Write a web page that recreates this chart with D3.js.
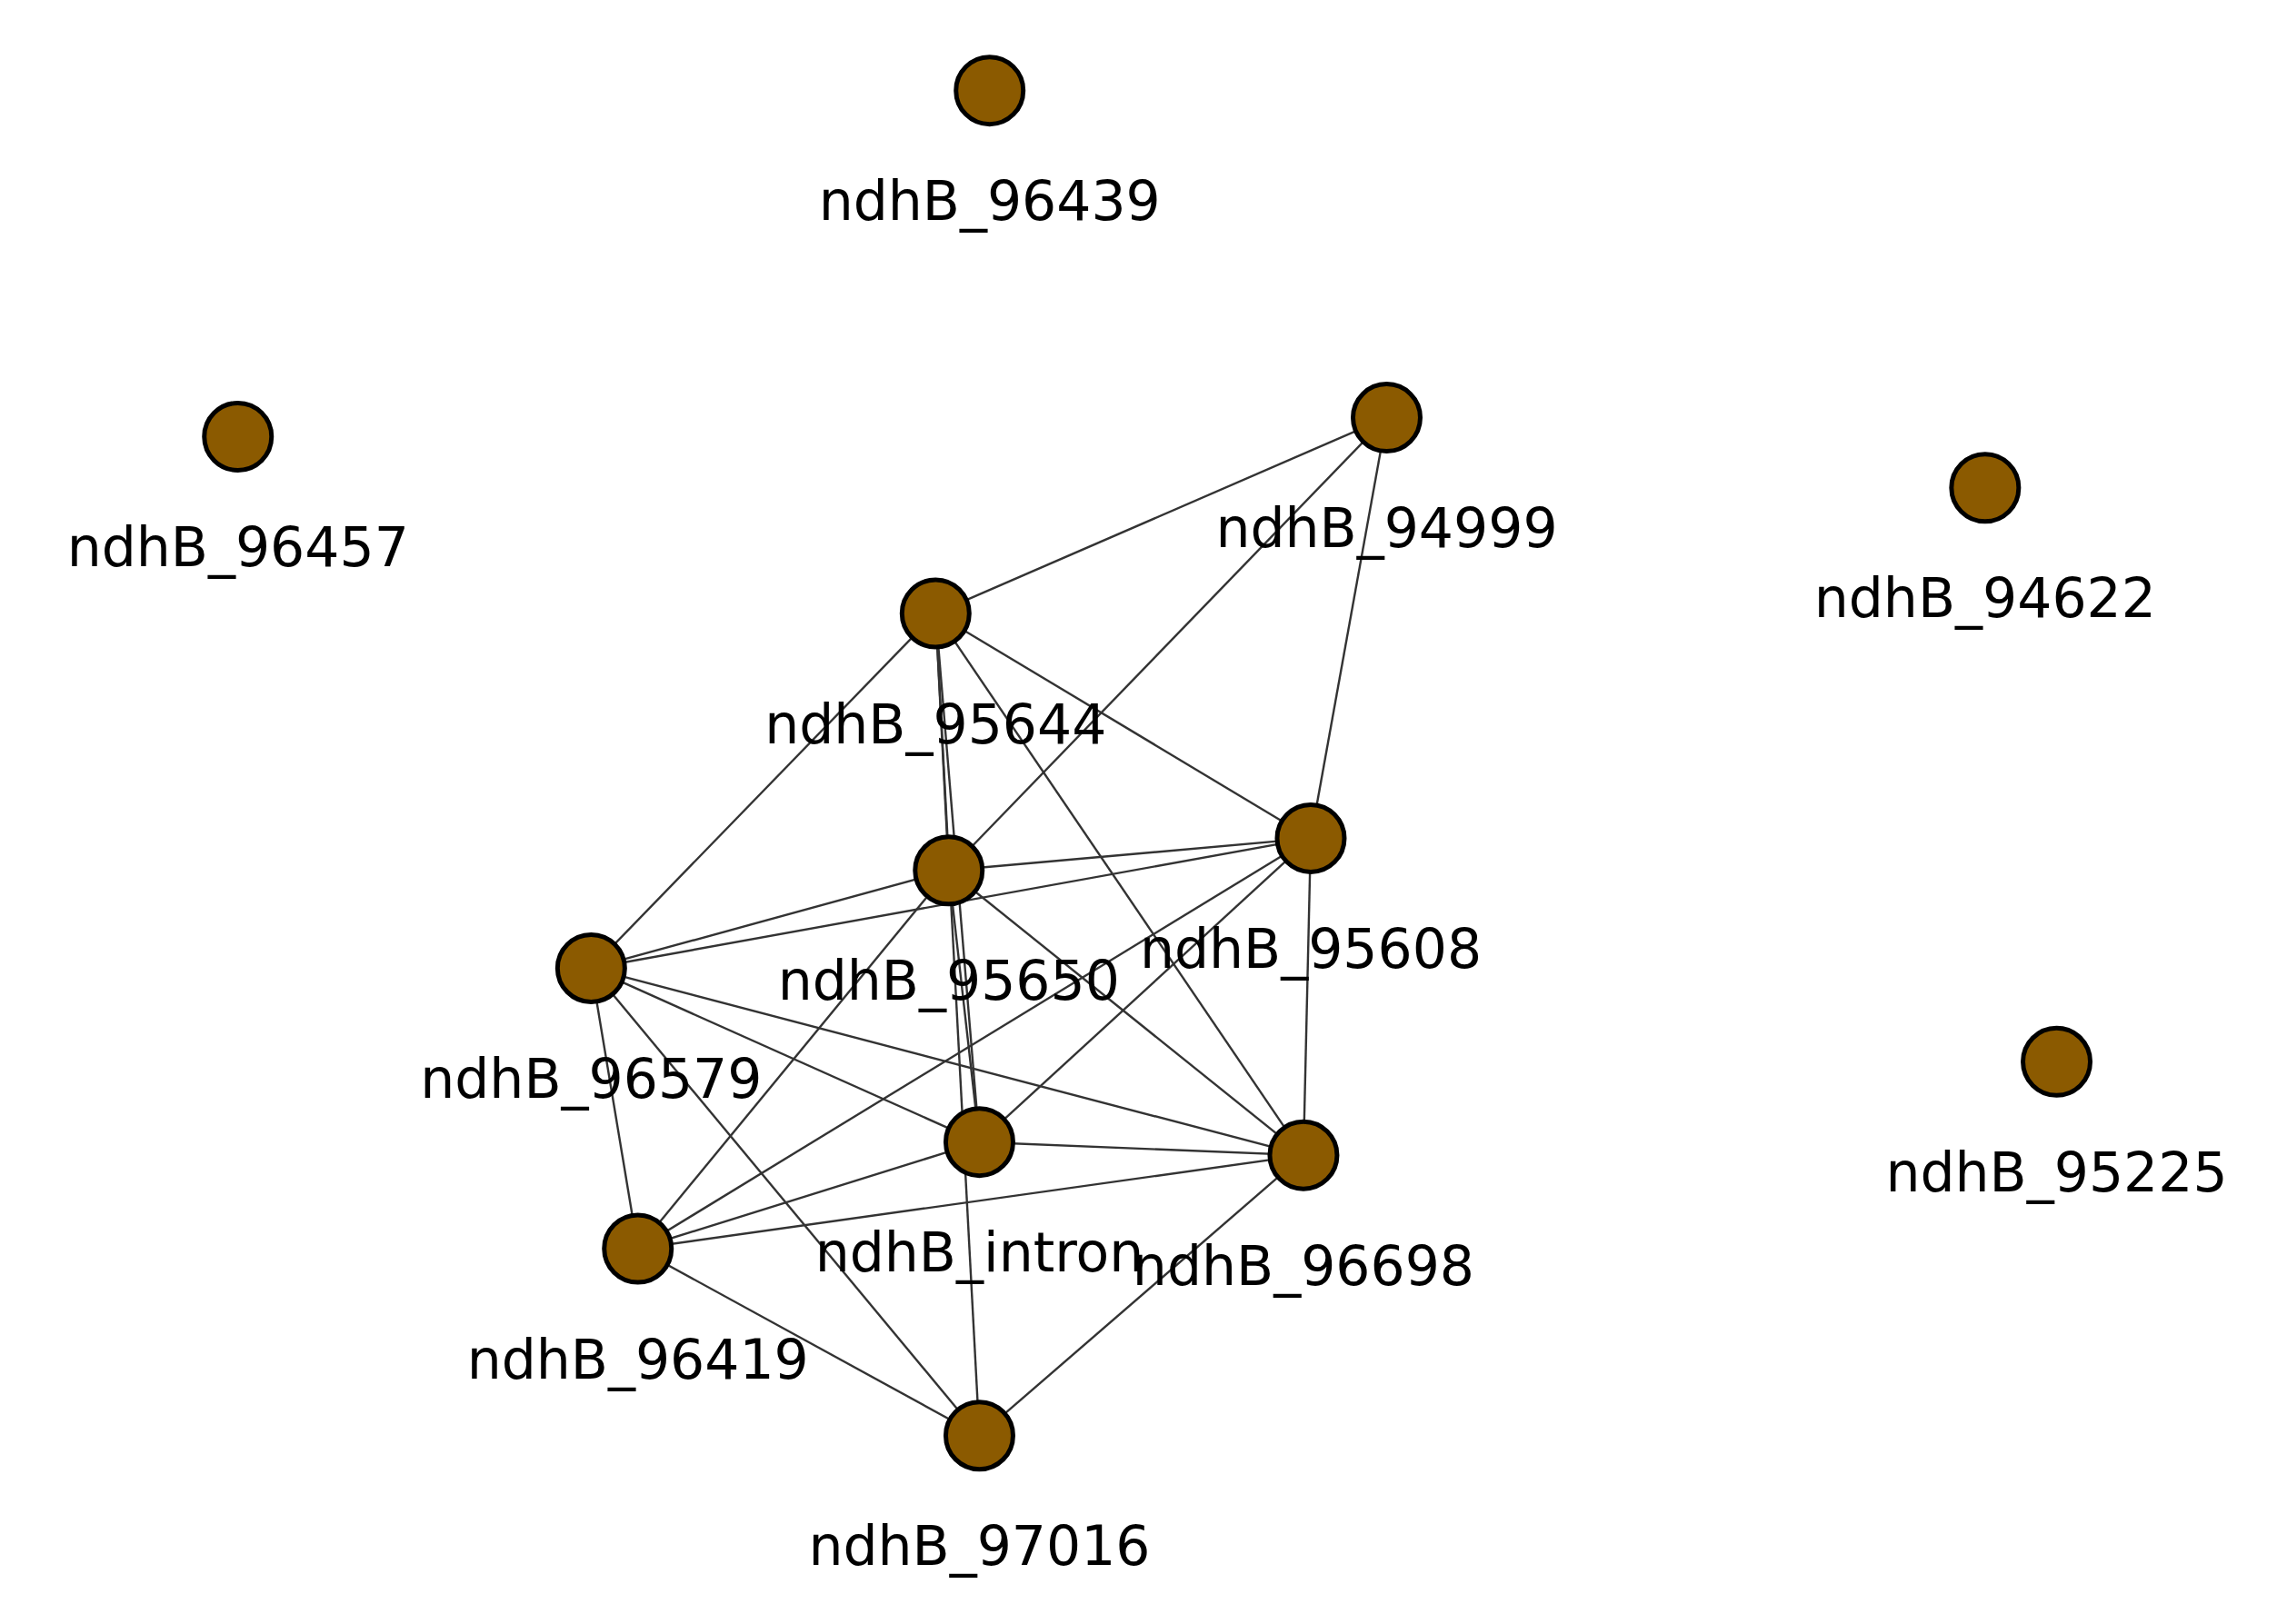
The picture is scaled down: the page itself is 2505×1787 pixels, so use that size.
<!DOCTYPE html>
<html><head><meta charset="utf-8">
<script src="https://cdn.jsdelivr.net/npm/d3@7"></script>
<style>body{margin:0;background:#fff}</style>
</head><body>
<svg id="net" width="2505" height="1787"></svg>
<script>
const nodeNames = ['ndhB_96439','ndhB_96457','ndhB_94999','ndhB_94622','ndhB_95644','ndhB_95608','ndhB_95650','ndhB_96579','ndhB_intron','ndhB_96698','ndhB_96419','ndhB_97016','ndhB_95225'];
const nodeX = [678,163,950,1360,641,898,650,405,671,893,437,671,1409];
const nodeY = [62,299,286,334,420,574,596,663,782,791,855,983,727];
const edgeSource = ['ndhB_94999','ndhB_94999','ndhB_94999','ndhB_95644','ndhB_95644','ndhB_95644','ndhB_95644','ndhB_95644','ndhB_95644','ndhB_95650','ndhB_95650','ndhB_95650','ndhB_95650','ndhB_95650','ndhB_95608','ndhB_95608','ndhB_95608','ndhB_95608','ndhB_96579','ndhB_96579','ndhB_96579','ndhB_96579','ndhB_intron','ndhB_intron','ndhB_96698','ndhB_96698','ndhB_96419'];
const edgeTarget = ['ndhB_95644','ndhB_95650','ndhB_95608','ndhB_96579','ndhB_95608','ndhB_95650','ndhB_intron','ndhB_96698','ndhB_97016','ndhB_95608','ndhB_96579','ndhB_intron','ndhB_96698','ndhB_96419','ndhB_96579','ndhB_96419','ndhB_intron','ndhB_96698','ndhB_intron','ndhB_96698','ndhB_96419','ndhB_97016','ndhB_96698','ndhB_96419','ndhB_96419','ndhB_97016','ndhB_97016'];

const x = d3.scaleLinear().domain([0, 1560]).range([0, 2505]);
const y = d3.scaleLinear().domain([0, 1112]).range([0, 1787]);

const nodes = nodeNames.map((n, i) => ({ name: n, x: nodeX[i], y: nodeY[i] }));
const byName = {};
nodes.forEach(d => { byName[d.name] = d; });
const links = edgeSource.map((s, i) => ({ source: byName[s], target: byName[edgeTarget[i]] }));

const svg = d3.select('svg#net');

svg.append('g').selectAll('line').data(links).enter().append('line')
  .attr('x1', d => x(d.source.x)).attr('y1', d => y(d.source.y))
  .attr('x2', d => x(d.target.x)).attr('y2', d => y(d.target.y))
  .style('stroke', '#333').style('stroke-width', 2.4);

svg.append('g').selectAll('circle').data(nodes).enter().append('circle')
  .attr('cx', d => x(d.x)).attr('cy', d => y(d.y)).attr('r', 37)
  .style('fill', '#8b5a00').style('stroke', '#000').style('stroke-width', 5);

svg.append('g').selectAll('text').data(nodes).enter().append('text')
  .attr('x', d => x(d.x)).attr('y', d => y(d.y + 80) + 14)
  .attr('text-anchor', 'middle')
  .style('font-family', 'DejaVu Sans').style('font-size', '60px')
  .text(d => d.name);
</script>
</body></html>
